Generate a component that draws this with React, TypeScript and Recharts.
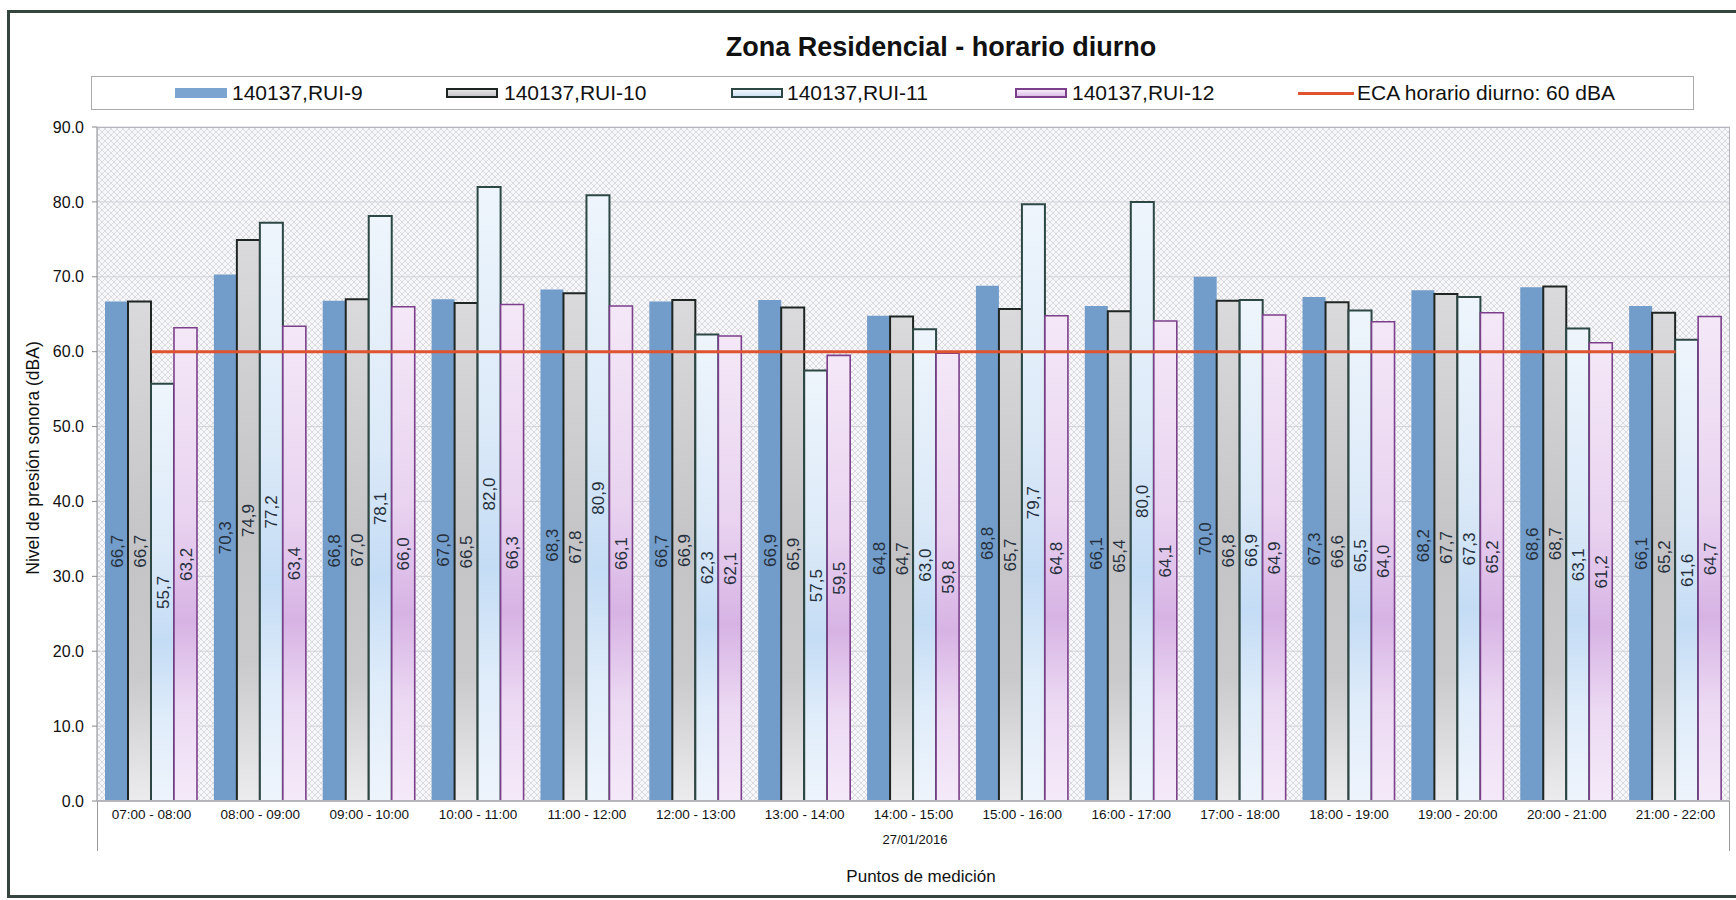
import React from 'react';
import { ComposedChart, Bar, Line, XAxis, YAxis, CartesianGrid, LabelList } from 'recharts';

const categories = [
  '07:00 - 08:00', '08:00 - 09:00', '09:00 - 10:00', '10:00 - 11:00', '11:00 - 12:00',
  '12:00 - 13:00', '13:00 - 14:00', '14:00 - 15:00', '15:00 - 16:00', '16:00 - 17:00',
  '17:00 - 18:00', '18:00 - 19:00', '19:00 - 20:00', '20:00 - 21:00', '21:00 - 22:00',
];
const rui9 = [66.7, 70.3, 66.8, 67.0, 68.3, 66.7, 66.9, 64.8, 68.8, 66.1, 70.0, 67.3, 68.2, 68.6, 66.1];
const rui10 = [66.7, 74.9, 67.0, 66.5, 67.8, 66.9, 65.9, 64.7, 65.7, 65.4, 66.8, 66.6, 67.7, 68.7, 65.2];
const rui11 = [55.7, 77.2, 78.1, 82.0, 80.9, 62.3, 57.5, 63.0, 79.7, 80.0, 66.9, 65.5, 67.3, 63.1, 61.6];
const rui12 = [63.2, 63.4, 66.0, 66.3, 66.1, 62.1, 59.5, 59.8, 64.8, 64.1, 64.9, 64.0, 65.2, 61.2, 64.7];
const ecaLimit = 60;
const yTicks = [0, 10, 20, 30, 40, 50, 60, 70, 80, 90];

const seriesNames = ['140137,RUI-9', '140137,RUI-10', '140137,RUI-11', '140137,RUI-12'];
const ecaName = 'ECA horario diurno: 60 dBA';

const data = categories.map((c, i) => ({
  cat: c,
  r9: rui9[i],
  r10: rui10[i],
  r11: rui11[i],
  r12: rui12[i],
  eca: ecaLimit,
}));

const FONT = '"Liberation Sans", Arial, sans-serif';
const fmt = (v: any) => (typeof v === 'number' ? v.toFixed(1).replace('.', ',') : v);

const labelProps = {
  position: 'center' as const,
  angle: -90,
  formatter: fmt,
  fill: '#26303c',
  fontSize: 17,
  fontFamily: FONT,
};

const swatch = (left: number, style: React.CSSProperties) => (
  <div style={{ position: 'absolute', left, top: 88, width: 52, height: 10, boxSizing: 'border-box', ...style }} />
);
const legText = (left: number, txt: string) => (
  <div style={{ position: 'absolute', left, top: 80, fontSize: 21, lineHeight: '26px', color: '#111', whiteSpace: 'nowrap' }}>{txt}</div>
);

export default function App() {
  return (
    <div style={{ position: 'absolute', left: 0, top: 0, width: 1736, height: 900, background: '#fff', fontFamily: FONT, overflow: 'hidden' }}>
      <ComposedChart
        width={1736}
        height={900}
        data={data}
        margin={{ top: 127, right: 6, bottom: 0, left: 0 }}
        barGap={0}
        barCategoryGap={8}
      >
        <defs>
          <pattern id="bgPat" width="6" height="6" patternUnits="userSpaceOnUse">
            <rect width="6" height="6" fill="#f7f7fa" />
            <path d="M0,0 L6,6 M6,0 L0,6" stroke="#d3d3da" strokeWidth="0.8" />
          </pattern>
          <linearGradient id="g10" x1="0" y1="0" x2="0" y2="1">
            <stop offset="0" stopColor="#dadadc" />
            <stop offset="0.5" stopColor="#c4c4c7" />
            <stop offset="0.75" stopColor="#cacacd" />
            <stop offset="1" stopColor="#ececef" />
          </linearGradient>
          <linearGradient id="g11" x1="0" y1="0" x2="0" y2="1">
            <stop offset="0" stopColor="#eef5fc" />
            <stop offset="0.4" stopColor="#dbe9f8" />
            <stop offset="0.62" stopColor="#c4dcf5" />
            <stop offset="0.8" stopColor="#dfecfa" />
            <stop offset="1" stopColor="#eef4fc" />
          </linearGradient>
          <linearGradient id="g12" x1="0" y1="0" x2="0" y2="1">
            <stop offset="0" stopColor="#f4e8f7" />
            <stop offset="0.4" stopColor="#e9d3f0" />
            <stop offset="0.62" stopColor="#d7b3e4" />
            <stop offset="0.8" stopColor="#ecd9f3" />
            <stop offset="1" stopColor="#f5eaf9" />
          </linearGradient>
        </defs>
        <CartesianGrid vertical={false} stroke="#d2d2da" fill="url(#bgPat)" fillOpacity={1} />
        <XAxis
          dataKey="cat"
          height={99}
          tickLine={false}
          axisLine={{ stroke: '#8a8a8a' }}
          tick={{ fontSize: 13.5, fill: '#111', fontFamily: FONT }}
          interval={0}
        />
        <YAxis
          width={97}
          domain={[0, 90]}
          ticks={yTicks}
          tickFormatter={(v: number) => v.toFixed(1)}
          tickSize={5}
          tickMargin={8}
          tickLine={{ stroke: '#8a8a8a' }}
          axisLine={{ stroke: '#8a8a8a' }}
          tick={{ fontSize: 16, fill: '#111', fontFamily: FONT }}
          allowDataOverflow
        />
        <Bar dataKey="r9" name={seriesNames[0]} fill="#729dca" isAnimationActive={false}>
          <LabelList dataKey="r9" {...labelProps} />
        </Bar>
        <Bar dataKey="r10" name={seriesNames[1]} fill="url(#g10)" stroke="#1f2522" strokeWidth={2} isAnimationActive={false}>
          <LabelList dataKey="r10" {...labelProps} />
        </Bar>
        <Bar dataKey="r11" name={seriesNames[2]} fill="url(#g11)" stroke="#2c4744" strokeWidth={2} isAnimationActive={false}>
          <LabelList dataKey="r11" {...labelProps} />
        </Bar>
        <Bar dataKey="r12" name={seriesNames[3]} fill="url(#g12)" stroke="#7c3f8c" strokeWidth={1.6} isAnimationActive={false}>
          <LabelList dataKey="r12" {...labelProps} />
        </Bar>
        <Line dataKey="eca" name={ecaName} stroke="#e0532f" strokeWidth={3} dot={false} activeDot={false} isAnimationActive={false} />
      </ComposedChart>

      {/* plot border */}
      <div style={{ position: 'absolute', left: 97, top: 127, width: 1633, height: 674, border: '1px solid #b4b4bc', boxSizing: 'border-box', pointerEvents: 'none' }} />
      {/* category axis separator lines */}
      <div style={{ position: 'absolute', left: 97, top: 801, width: 1, height: 50, background: '#9a9a9a' }} />
      <div style={{ position: 'absolute', left: 1729, top: 801, width: 1, height: 50, background: '#9a9a9a' }} />

      {/* outer frame */}
      <div style={{ position: 'absolute', left: 7, top: 10, width: 1760, height: 888, border: '3px solid #34453d', boxSizing: 'border-box', pointerEvents: 'none' }} />

      {/* title */}
      <div style={{ position: 'absolute', left: 0, width: 1882, top: 30, textAlign: 'center', fontSize: 27, fontWeight: 'bold', color: '#111', lineHeight: '34px' }}>
        Zona Residencial - horario diurno
      </div>

      {/* legend */}
      <div style={{ position: 'absolute', left: 91, top: 76, width: 1603, height: 34, border: '1px solid #aaaaaa', boxSizing: 'border-box', background: '#fff' }} />
      {swatch(175, { background: '#7ba5d0' })}
      {legText(232, seriesNames[0])}
      {swatch(446, { background: 'linear-gradient(#e4e4e6,#c6c6c9)', border: '2px solid #1f2522' })}
      {legText(504, seriesNames[1])}
      {swatch(731, { background: 'linear-gradient(#f2f7fd,#cfe2f6)', border: '2px solid #2c4744' })}
      {legText(787, seriesNames[2])}
      {swatch(1015, { background: 'linear-gradient(#f6ebf9,#dcbde8)', border: '2px solid #7c3f8c' })}
      {legText(1072, seriesNames[3])}
      <div style={{ position: 'absolute', left: 1298, top: 92, width: 56, height: 3, background: '#e0532f' }} />
      {legText(1357, ecaName)}

      {/* y axis title */}
      <div style={{ position: 'absolute', left: 33, top: 458, transform: 'translate(-50%,-50%) rotate(-90deg)', fontSize: 17.5, color: '#111', whiteSpace: 'nowrap' }}>
        Nivel de presión sonora (dBA)
      </div>

      {/* date and x axis title */}
      <div style={{ position: 'absolute', left: 915, top: 839, transform: 'translate(-50%,-50%)', fontSize: 13, color: '#111', whiteSpace: 'nowrap' }}>
        27/01/2016
      </div>
      <div style={{ position: 'absolute', left: 921, top: 877, transform: 'translate(-50%,-50%)', fontSize: 17, color: '#111', whiteSpace: 'nowrap' }}>
        Puntos de medición
      </div>
    </div>
  );
}
